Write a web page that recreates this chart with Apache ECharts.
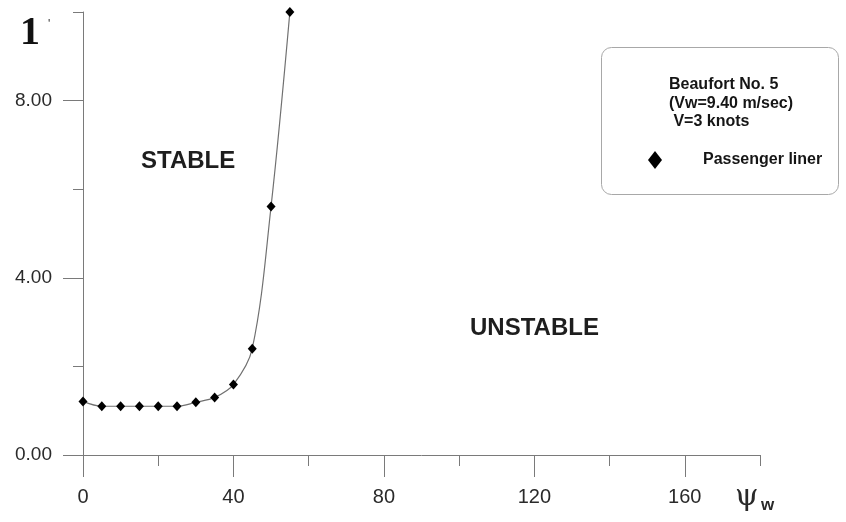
<!DOCTYPE html>
<html>
<head>
<meta charset="utf-8">
<title>Stability boundary – Beaufort No. 5</title>
<script src="https://cdn.jsdelivr.net/npm/echarts@6/dist/echarts.min.js"></script>
<style>
  html, body { margin: 0; padding: 0; background: #ffffff; }
  #chart { width: 846px; height: 522px; }
</style>
</head>
<body>
<div id="chart"></div>
<script>
// Wind heading angle ψw (deg) and the stability boundary value for the passenger liner
const psiValues = [0, 5, 10, 15, 20, 25, 30, 35, 40, 45, 50, 55];
const boundaryValues = [1.21, 1.10, 1.10, 1.10, 1.10, 1.10, 1.19, 1.30, 1.59, 2.40, 5.61, 10.0];
const seriesName = 'Passenger liner';

// Axis ticks and labels
const xMajorTicks = [0, 40, 80, 120, 160];
const xMinorTicks = [20, 60, 100, 140, 180];
const yMajorTicks = [0, 4, 8];
const yMinorTicks = [2, 6, 10];

// Legend box text
const conditionLines = ['Beaufort No. 5', '(Vw=9.40 m/sec)', ' V=3 knots'];

const FONT = '"Liberation Sans", Arial, Helvetica, sans-serif';
const AXIS_COLOR = '#7a7a7a';
const TEXT_COLOR = '#2a2a2a';

const chart = echarts.init(document.getElementById('chart'), null, { renderer: 'canvas' });

const points = psiValues.map((x, i) => [x, boundaryValues[i]]);

const graphics = [
  // rounded frame around the conditions and legend
  {
    type: 'rect', left: 601, top: 47, z: 1,
    shape: { width: 237, height: 147, r: 10 },
    style: { fill: '#ffffff', stroke: '#a8a8a8', lineWidth: 1 }
  },
  // region labels
  {
    type: 'text', left: 141, top: 149, z: 5,
    style: { text: 'STABLE', font: 'bold 24px ' + FONT, fill: '#1e1e1e' }
  },
  {
    type: 'text', left: 470, top: 316, z: 5,
    style: { text: 'UNSTABLE', font: 'bold 24px ' + FONT, fill: '#1e1e1e' }
  },
  // top value of the vertical axis
  {
    type: 'text', left: 20, top: 14, z: 5,
    style: { text: '1', font: 'bold 40px "Liberation Serif", "Times New Roman", serif', fill: '#111' }
  },
  {
    type: 'text', left: 48, top: 19, z: 5,
    style: { text: '\'', font: '12px ' + FONT, fill: '#333' }
  },
  // horizontal axis name ψw
  {
    type: 'text', left: 735, top: 482, z: 5,
    style: { text: 'ψ', font: '30px "DejaVu Serif", serif', fill: '#2a2a2a' }
  },
  {
    type: 'text', left: 761, top: 497, z: 5,
    style: { text: 'w', font: 'bold 17px ' + FONT, fill: '#2a2a2a' }
  }
];

conditionLines.forEach((line, i) => {
  graphics.push({
    type: 'text', left: 669, top: 77 + i * 18.5, z: 5,
    style: { text: line, font: 'bold 16px ' + FONT, fill: '#151515' }
  });
});

const option = {
  backgroundColor: '#ffffff',
  animation: false,
  grid: { left: 83, right: 86, top: 12, bottom: 67, containLabel: false },
  legend: {
    data: [seriesName],
    left: 643, top: 146,
    icon: 'diamond',
    itemWidth: 14, itemHeight: 18,
    itemStyle: { color: '#000' },
    textStyle: {
      fontFamily: FONT, fontSize: 16, fontWeight: 'bold', color: '#151515',
      padding: [0, 0, 0, 36]
    },
    z: 6
  },
  xAxis: [
    {
      type: 'value', min: 0, max: 180, interval: 40,
      axisLine: { show: true, onZero: false, lineStyle: { color: AXIS_COLOR, width: 1 } },
      axisTick: { show: true, length: 22, customValues: xMajorTicks, lineStyle: { color: AXIS_COLOR } },
      axisLabel: {
        customValues: xMajorTicks, margin: 32,
        fontFamily: FONT, fontSize: 20, color: TEXT_COLOR
      },
      splitLine: { show: false }
    },
    {
      type: 'value', min: 0, max: 180, position: 'bottom',
      axisLine: { show: false },
      axisTick: { show: true, length: 11, customValues: xMinorTicks, lineStyle: { color: AXIS_COLOR } },
      axisLabel: { show: false },
      splitLine: { show: false }
    }
  ],
  yAxis: [
    {
      type: 'value', min: 0, max: 10, interval: 2,
      axisLine: { show: true, onZero: false, lineStyle: { color: AXIS_COLOR, width: 1 } },
      axisTick: { show: true, length: 20, customValues: yMajorTicks, lineStyle: { color: AXIS_COLOR } },
      axisLabel: {
        customValues: yMajorTicks, margin: 31,
        fontFamily: FONT, fontSize: 19, color: TEXT_COLOR,
        formatter: v => v.toFixed(2)
      },
      splitLine: { show: false }
    },
    {
      type: 'value', min: 0, max: 10, position: 'left',
      axisLine: { show: false },
      axisTick: { show: true, length: 10, customValues: yMinorTicks, lineStyle: { color: AXIS_COLOR } },
      axisLabel: { show: false },
      splitLine: { show: false }
    }
  ],
  series: [
    {
      name: seriesName,
      type: 'line',
      xAxisIndex: 0, yAxisIndex: 0,
      data: points,
      smooth: 0.35,
      symbol: 'diamond',
      symbolSize: [9, 10],
      itemStyle: { color: '#000' },
      lineStyle: { color: '#707070', width: 1.2 },
      z: 4
    }
  ],
  graphic: graphics
};

chart.setOption(option);
</script>
</body>
</html>
